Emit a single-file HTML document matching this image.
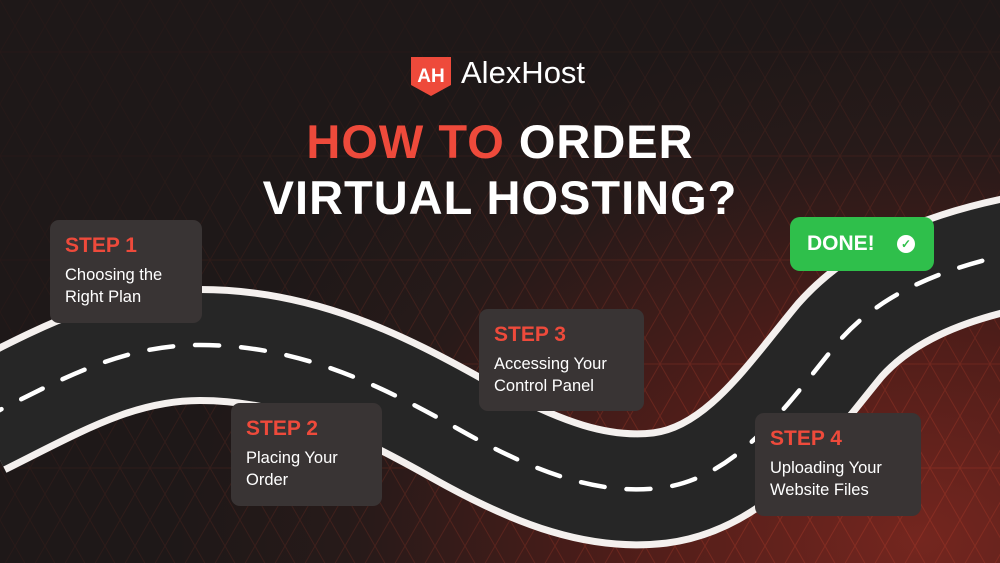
<!DOCTYPE html>
<html><head><meta charset="utf-8"><style>
html,body{margin:0;padding:0}
body{width:1000px;height:563px;overflow:hidden;position:relative;font-family:"Liberation Sans",sans-serif;
background:radial-gradient(ellipse 750px 520px at 920px 540px,#74261f 0%,#4e1d19 40%,#271a19 75%,#1e1818 100%);}
svg{position:absolute;left:0;top:0}
.box{position:absolute;background:#393434;border-radius:9px;color:#fff;padding:14px 15px;box-sizing:border-box}
.box b{display:block;color:#ee4a3b;font-size:21px;margin-bottom:6px}
.box span{font-size:16.5px;line-height:22px;display:block}
.t{position:absolute;left:0;width:1000px;text-align:center;color:#fff;font-weight:bold;font-size:47px;letter-spacing:1px}
</style></head><body>
<svg width="1000" height="563">
<defs><pattern id="tri" width="60" height="104" patternUnits="userSpaceOnUse">
<path d="M0 0L60 104M60 0L0 104M0 52H60M30 0L0 52L30 104M30 0L60 52L30 104" stroke="#d0452f" stroke-width="1" fill="none" opacity="0.3"/></pattern>
<radialGradient id="m" cx="0.8" cy="0.85" r="0.85"><stop offset="0" stop-color="#fff" stop-opacity="1"/><stop offset="1" stop-color="#fff" stop-opacity="0.15"/></radialGradient>
<mask id="mk"><rect width="1000" height="563" fill="url(#m)"/></mask></defs>
<rect width="1000" height="563" fill="url(#tri)" mask="url(#mk)"/>
<path d="M-20 420 C60 380,120 345,200 345 C300 345,380 385,460 430 C540 475,600 495,660 488 C740 478,790 400,840 340 C880 295,940 268,1020 252" fill="none" stroke="#f4f0ee" stroke-width="118"/>
<path d="M-20 420 C60 380,120 345,200 345 C300 345,380 385,460 430 C540 475,600 495,660 488 C740 478,790 400,840 340 C880 295,940 268,1020 252" fill="none" stroke="#262626" stroke-width="104"/>
<path d="M-20 420 C60 380,120 345,200 345 C300 345,380 385,460 430 C540 475,600 495,660 488 C740 478,790 400,840 340 C880 295,940 268,1020 252" fill="none" stroke="#fff" stroke-width="4.5" stroke-dasharray="24 22" stroke-linecap="round"/>
<path d="M411 57H451V85L431 96L411 85Z" fill="#ee4a3b"/>
<text x="431" y="82" fill="#fff" font-family="Liberation Sans" font-weight="bold" font-size="19" text-anchor="middle">AH</text>
</svg>
<div style="position:absolute;left:461px;top:55px;color:#fff;font-size:31px">AlexHost</div>
<div class="t" style="top:114px"><span style="color:#ee4a3b">HOW TO</span> ORDER</div>
<div class="t" style="top:170px">VIRTUAL HOSTING?</div>
<div class="box" style="left:50px;top:220px;width:152px;height:103px"><b>STEP 1</b><span>Choosing the Right Plan</span></div>
<div class="box" style="left:231px;top:403px;width:151px;height:103px"><b>STEP 2</b><span>Placing Your Order</span></div>
<div class="box" style="left:479px;top:309px;width:165px;height:102px"><b>STEP 3</b><span>Accessing Your Control Panel</span></div>
<div class="box" style="left:755px;top:413px;width:166px;height:103px"><b>STEP 4</b><span>Uploading Your Website Files</span></div>
<div style="position:absolute;left:790px;top:217px;width:144px;height:54px;background:#2fbf4b;border-radius:10px;color:#fff;font-weight:bold;font-size:21px;line-height:54px;box-sizing:border-box;padding-left:17px">DONE!
<span style="position:absolute;left:107px;top:18px;width:18px;height:18px;border-radius:50%;background:#fff;color:#2fbf4b;font-size:12px;line-height:18px;text-align:center">✓</span></div>
</body></html>
